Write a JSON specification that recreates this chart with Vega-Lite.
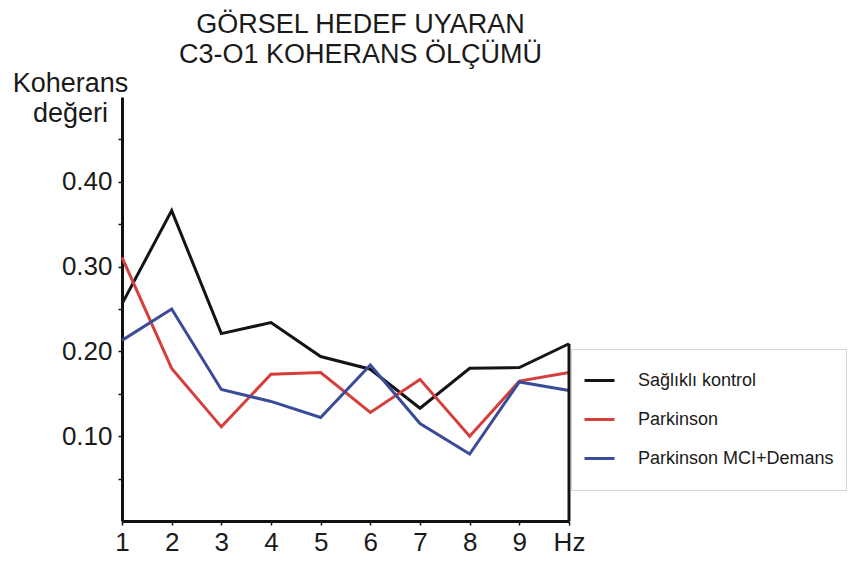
{
  "$schema": "https://vega.github.io/schema/vega-lite/v6.json",
  "width": 447,
  "height": 424,
  "autosize": "none",
  "padding": {"left": 122, "top": 97, "right": 279, "bottom": 42},
  "background": "white",
  "config": {
    "font": "Liberation Sans",
    "view": {"stroke": null}
  },
  "title": {
    "text": ["GÖRSEL HEDEF UYARAN", "C3-O1 KOHERANS ÖLÇÜMÜ"],
    "fontSize": 27,
    "fontWeight": "normal",
    "lineHeight": 30,
    "color": "#1a1a1a",
    "anchor": "middle",
    "dx": 15,
    "offset": 0
  },
  "data": {
    "values": [
      {"hz": 1, "group": "Sağlıklı kontrol", "value": 0.256},
      {"hz": 2, "group": "Sağlıklı kontrol", "value": 0.366},
      {"hz": 3, "group": "Sağlıklı kontrol", "value": 0.221},
      {"hz": 4, "group": "Sağlıklı kontrol", "value": 0.234},
      {"hz": 5, "group": "Sağlıklı kontrol", "value": 0.194},
      {"hz": 6, "group": "Sağlıklı kontrol", "value": 0.179},
      {"hz": 7, "group": "Sağlıklı kontrol", "value": 0.133},
      {"hz": 8, "group": "Sağlıklı kontrol", "value": 0.180},
      {"hz": 9, "group": "Sağlıklı kontrol", "value": 0.181},
      {"hz": 10, "group": "Sağlıklı kontrol", "value": 0.209},
      {"hz": 1, "group": "Parkinson", "value": 0.311},
      {"hz": 2, "group": "Parkinson", "value": 0.180},
      {"hz": 3, "group": "Parkinson", "value": 0.111},
      {"hz": 4, "group": "Parkinson", "value": 0.173},
      {"hz": 5, "group": "Parkinson", "value": 0.175},
      {"hz": 6, "group": "Parkinson", "value": 0.128},
      {"hz": 7, "group": "Parkinson", "value": 0.167},
      {"hz": 8, "group": "Parkinson", "value": 0.100},
      {"hz": 9, "group": "Parkinson", "value": 0.165},
      {"hz": 10, "group": "Parkinson", "value": 0.175},
      {"hz": 1, "group": "Parkinson MCI+Demans", "value": 0.213},
      {"hz": 2, "group": "Parkinson MCI+Demans", "value": 0.250},
      {"hz": 3, "group": "Parkinson MCI+Demans", "value": 0.155},
      {"hz": 4, "group": "Parkinson MCI+Demans", "value": 0.141},
      {"hz": 5, "group": "Parkinson MCI+Demans", "value": 0.122},
      {"hz": 6, "group": "Parkinson MCI+Demans", "value": 0.184},
      {"hz": 7, "group": "Parkinson MCI+Demans", "value": 0.115},
      {"hz": 8, "group": "Parkinson MCI+Demans", "value": 0.079},
      {"hz": 9, "group": "Parkinson MCI+Demans", "value": 0.164},
      {"hz": 10, "group": "Parkinson MCI+Demans", "value": 0.154}
    ]
  },
  "layer": [
    {
      "mark": {"type": "line", "strokeWidth": 3, "clip": false},
      "encoding": {
        "x": {
          "field": "hz",
          "type": "quantitative",
          "scale": {"domain": [1, 10], "nice": false, "zero": false},
          "axis": {
            "title": null,
            "values": [1, 2, 3, 4, 5, 6, 7, 8, 9, 10],
            "labelExpr": "datum.value == 10 ? 'Hz' : datum.label",
            "grid": false,
            "domainColor": "#111111",
            "domainWidth": 3,
            "tickColor": "#111111",
            "tickSize": 4,
            "tickWidth": 1.5,
            "labelFontSize": 26,
            "labelColor": "#1a1a1a",
            "labelPadding": 4,
            "labelFlush": false
          }
        },
        "y": {
          "field": "value",
          "type": "quantitative",
          "scale": {"domain": [0, 0.5], "nice": false},
          "axis": {
            "title": ["Koherans", "değeri"],
            "titleAngle": 0,
            "titleX": -52,
            "titleY": -27,
            "titleAlign": "center",
            "titleBaseline": "top",
            "titleFontSize": 27,
            "titleFontWeight": "normal",
            "titleColor": "#1a1a1a",
            "titleLineHeight": 30,
            "values": [0.05, 0.1, 0.15, 0.2, 0.25, 0.3, 0.35, 0.4, 0.45],
            "labelExpr": "(abs(datum.value*10 - round(datum.value*10)) < 0.01) ? format(datum.value, '.2f') : ''",
            "grid": false,
            "domainColor": "#111111",
            "domainWidth": 3,
            "tickColor": "#111111",
            "tickSize": 4,
            "tickWidth": 1.5,
            "labelFontSize": 26,
            "labelColor": "#1a1a1a",
            "labelPadding": 6
          }
        },
        "color": {
          "field": "group",
          "type": "nominal",
          "sort": ["Sağlıklı kontrol", "Parkinson", "Parkinson MCI+Demans"],
          "scale": {
            "domain": ["Sağlıklı kontrol", "Parkinson", "Parkinson MCI+Demans"],
            "range": ["#141414", "#d43f3c", "#3a4c98"]
          },
          "legend": {
            "title": null,
            "orient": "none",
            "legendX": 449,
            "legendY": 252,
            "strokeColor": "#d6d6d6",
            "padding": 12,
            "symbolType": "stroke",
            "symbolSize": 900,
            "symbolStrokeWidth": 3,
            "labelFontSize": 18,
            "labelColor": "#1a1a1a",
            "labelOffset": 22,
            "labelLimit": 400,
            "clipHeight": 39,
            "rowPadding": 0
          }
        }
      }
    },
    {
      "transform": [{"filter": "datum.hz == 10 && datum.group == 'Sağlıklı kontrol'"}],
      "mark": {"type": "rule", "strokeWidth": 3, "color": "#141414", "clip": false},
      "encoding": {
        "x": {"field": "hz", "type": "quantitative"},
        "y": {"field": "value", "type": "quantitative"},
        "y2": {"datum": 0}
      }
    }
  ]
}
